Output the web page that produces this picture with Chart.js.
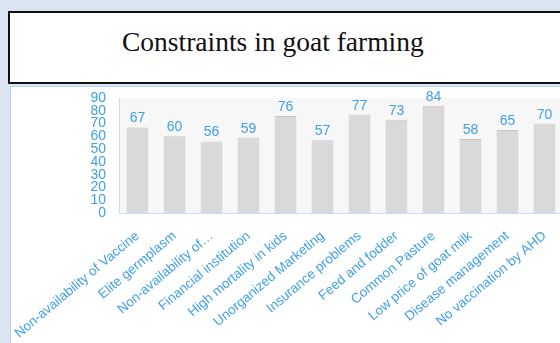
<!DOCTYPE html>
<html lang="en">
<head>
    <meta charset="UTF-8">
    <title>Constraints in goat farming</title>
    <script src="https://cdn.jsdelivr.net/npm/chart.js"></script>
    <style>
        body {
            margin: 0;
            width: 560px;
            height: 343px;
            overflow: hidden;
            background-color: #dbe5f1;
            position: relative;
        }

        #title-box {
            position: absolute;
            left: 8px;
            top: 11px;
            width: 560px;
            height: 69px;
            background: #fff;
            border: 2px solid #111;
            font-family: "Liberation Serif", "DejaVu Serif", serif;
            font-size: 27.5px;
            color: #111;
        }

        #title-box span {
            position: absolute;
            left: 112px;
            top: 13px;
        }

        #panel {
            position: absolute;
            left: 10px;
            top: 86px;
            width: 580px;
            height: 280px;
            background: #fff;
            border: 1px solid #b9d3f2;
        }

        #chart-wrap {
            position: absolute;
            left: 0;
            top: 2px;
            width: 552px;
            height: 262px;
        }
    </style>
</head>
<body>
    <div id="title-box"><span>Constraints in goat farming</span></div>
    <div id="panel">
        <div id="chart-wrap"><canvas id="chart"></canvas></div>
    </div>

    <script>
        const categories = [
            "Non-availability of Vaccine",
            "Elite germplasm",
            "Non-availability of\u2026",
            "Financial institution",
            "High mortality in kids",
            "Unorganized Marketing",
            "Insurance problems",
            "Feed and fodder",
            "Common Pasture",
            "Low price of goat milk",
            "Disease management",
            "No vaccination by AHD"
        ];
        const values = [67, 60, 56, 59, 76, 57, 77, 73, 84, 58, 65, 70];
        const yTicks = [0, 10, 20, 30, 40, 50, 60, 70, 80, 90];

        const blue = "#40a1e8";

        // grey plot background + value labels above bars
        const plotBg = {
            id: "plotBg",
            beforeDraw(chart) {
                const a = chart.chartArea;
                const ctx = chart.ctx;
                ctx.save();
                ctx.fillStyle = "#f7f7f7";
                ctx.fillRect(a.left, a.top, a.right - a.left, a.bottom - a.top);
                ctx.restore();
            }
        };
        const valueLabels = {
            id: "valueLabels",
            afterDatasetsDraw(chart) {
                const ctx = chart.ctx;
                const meta = chart.getDatasetMeta(0);
                ctx.save();
                ctx.font = "14px 'Liberation Sans', Arial, sans-serif";
                ctx.fillStyle = blue;
                ctx.textAlign = "center";
                ctx.textBaseline = "alphabetic";
                meta.data.forEach((bar, i) => {
                    ctx.fillText(values[i], bar.x, bar.y - 5);
                });
                ctx.restore();
            }
        };

        new Chart(document.getElementById("chart"), {
            type: "bar",
            data: {
                labels: categories,
                datasets: [{
                    data: values,
                    backgroundColor: "#d9d9d9",
                    borderColor: "#c6c6c6",
                    borderWidth: 1,
                    categoryPercentage: 1,
                    barPercentage: 0.59
                }]
            },
            options: {
                responsive: true,
                maintainAspectRatio: false,
                animation: false,
                layout: { padding: { top: 9, left: 0, right: 0, bottom: 0 } },
                plugins: {
                    legend: { display: false },
                    tooltip: { enabled: false }
                },
                scales: {
                    x: {
                        grid: { display: false, drawTicks: false },
                        border: { color: "#c9dff5", width: 1 },
                        ticks: {
                            color: blue,
                            font: { family: "'Liberation Sans', Arial, sans-serif", size: 13.5 },
                            minRotation: 40,
                            maxRotation: 40,
                            autoSkip: false,
                            padding: 15
                        },
                        afterFit(scale) {
                            scale.height = 138;
                            scale.paddingLeft = 0;
                            scale.paddingRight = 0;
                        }
                    },
                    y: {
                        min: 0,
                        max: 90,
                        grid: { display: false, drawTicks: false },
                        border: { color: "#c9dff5", width: 1 },
                        afterBuildTicks(scale) {
                            scale.ticks = yTicks.map(v => ({ value: v }));
                        },
                        ticks: {
                            color: blue,
                            font: { family: "'Liberation Sans', Arial, sans-serif", size: 14, lineHeight: 1 },
                            autoSkip: false,
                            padding: 13
                        },
                        afterFit(scale) {
                            scale.width = 108;
                            scale.paddingTop = 0;
                            scale.paddingBottom = 0;
                        }
                    }
                }
            },
            plugins: [plotBg, valueLabels]
        });
    </script>
</body>
</html>
